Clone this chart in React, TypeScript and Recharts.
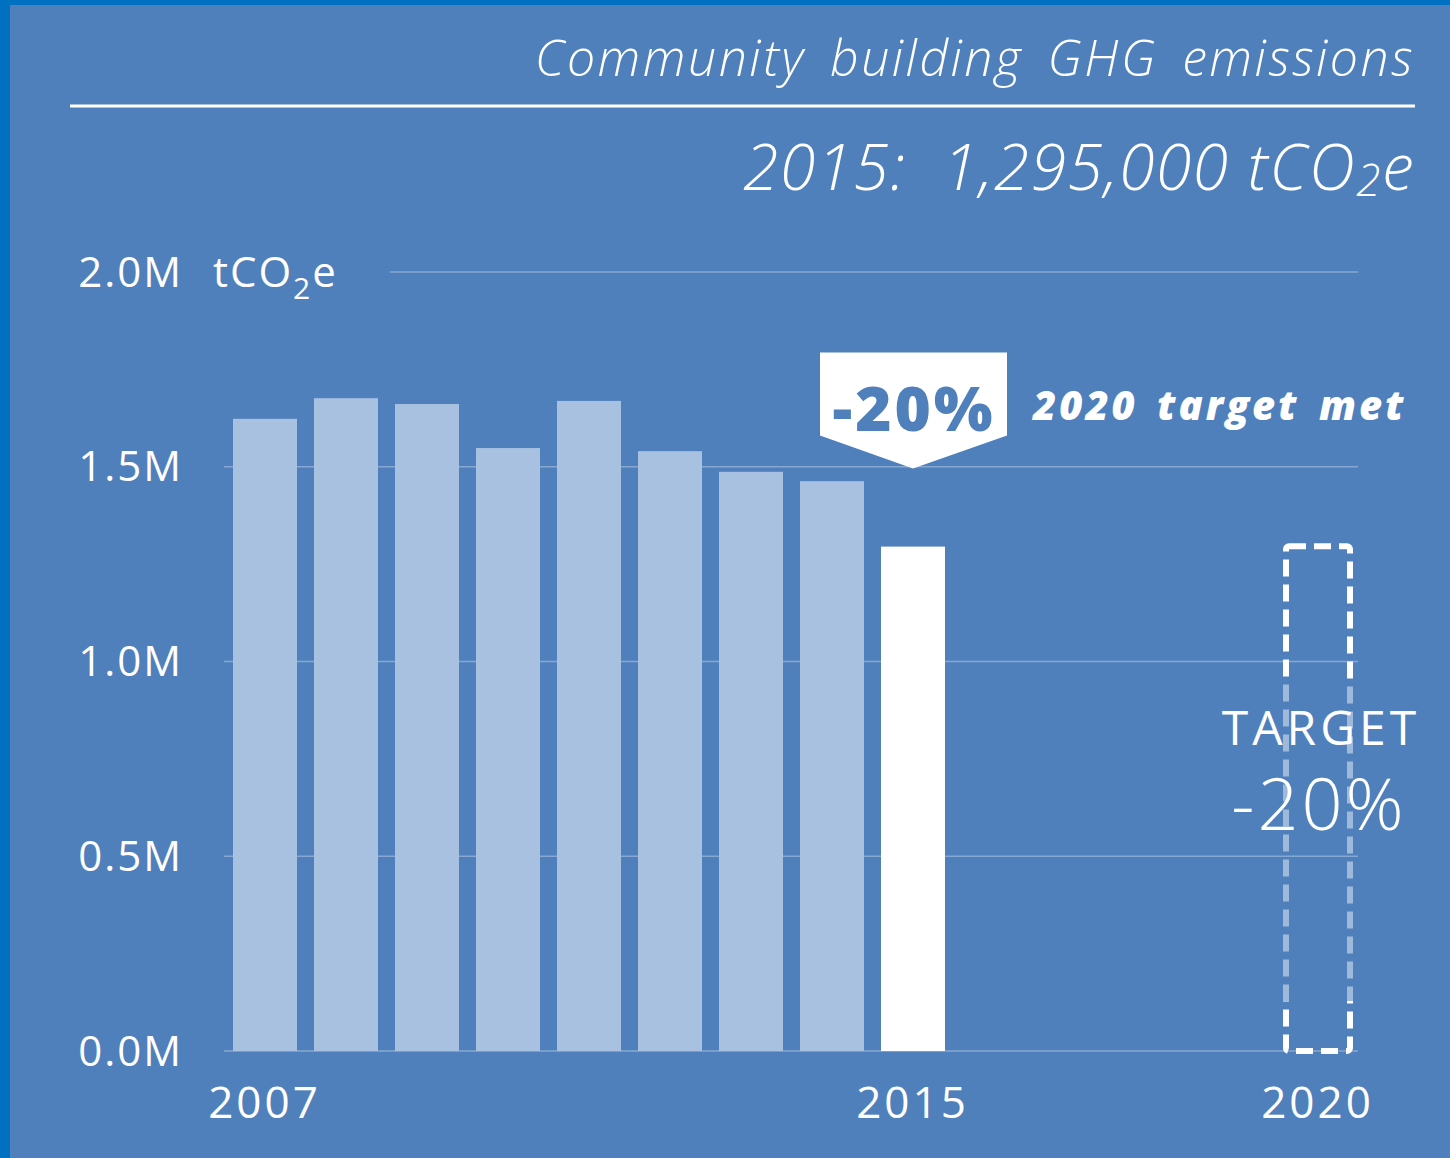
import React from 'react';
import { BarChart, Bar, XAxis, YAxis, CartesianGrid } from 'recharts';

// values in million tCO2e
const years = ['2007', '2008', '2009', '2010', '2011', '2012', '2013', '2014', '2015', '2016', '2017', '2018', '2019', '2020'];
const actual = [1.623, 1.676, 1.661, 1.548, 1.669, 1.540, 1.487, 1.463, 1.295, null, null, null, null, null];
const target = [null, null, null, null, null, null, null, null, null, null, null, null, null, 1.296];
const yTicks = [0, 0.5, 1.0, 1.5, 2.0];
const shownYears = ['2007', '2015', '2020'];
const currentYear = '2015';
const reductionLabel = '-20%';

const data = years.map((year, i) => ({ year, actual: actual[i], target: target[i] }));

const BG = '#4F80BB';
const BAR = '#A9C1E0';
const GRID = '#87A8D2';
const FONT = '"Open Sans", "DejaVu Sans", sans-serif';
const W = 1450;
const H = 1158;
const TOP = 272;

const currentValue = actual[years.indexOf(currentYear)] as number;

const ActualShape = (props: any) => {
  const { x, y, width, height, payload } = props;
  if (payload.actual == null || !height) return <g />;
  const isCurrent = payload.year === currentYear;
  const cx = x + width / 2;
  const tipY = y - 78;
  return (
    <g>
      <rect x={x} y={y} width={width} height={height} fill={isCurrent ? '#FFFFFF' : BAR} />
      {isCurrent && (
        <g>
          <polygon
            points={`${cx - 93},${tipY - 116} ${cx + 94},${tipY - 116} ${cx + 94},${tipY - 33} ${cx},${tipY} ${cx - 93},${tipY - 33}`}
            fill="#FFFFFF"
          />
          <text x={cx + 1} y={tipY - 62} textAnchor="middle" dominantBaseline="central" fill={BG} fontSize={62} fontWeight={800} letterSpacing={3} fontFamily={FONT}>
            {reductionLabel}
          </text>
          <text x={cx + 120} y={tipY - 64} textAnchor="start" dominantBaseline="central" fill="#FFFFFF" fontSize={40} fontWeight={800} fontStyle="italic" letterSpacing={3} wordSpacing={6} fontFamily={FONT}>
            2020 target met
          </text>
        </g>
      )}
    </g>
  );
};

const TargetShape = (props: any) => {
  const { x, y, width, height, payload } = props;
  if (payload.target == null || !height) return <g />;
  const cx = x + width / 2;
  return (
    <g>
      <defs>
        <linearGradient id="targetStroke" x1="0" y1="0" x2="0" y2="1">
          <stop offset="0" stopColor="#FFFFFF" stopOpacity={1} />
          <stop offset="0.265" stopColor="#FFFFFF" stopOpacity={1} />
          <stop offset="0.265" stopColor="#FFFFFF" stopOpacity={0.45} />
          <stop offset="0.9" stopColor="#FFFFFF" stopOpacity={0.45} />
          <stop offset="0.9" stopColor="#FFFFFF" stopOpacity={1} />
          <stop offset="1" stopColor="#FFFFFF" stopOpacity={1} />
        </linearGradient>
      </defs>
      <rect x={x} y={y} width={width} height={height} rx={3} fill="none" stroke="url(#targetStroke)" strokeWidth={6} strokeDasharray="17 8" />
      <text x={cx + 3} y={y + 180} textAnchor="middle" dominantBaseline="central" fill="#FFFFFF" fontSize={48} fontWeight={400} letterSpacing={4} fontFamily={FONT}>
        TARGET
      </text>
      <text x={cx + 1} y={y + 256} textAnchor="middle" dominantBaseline="central" fill="#FFFFFF" fontSize={72} fontWeight={300} letterSpacing={3} fontFamily={FONT}>
        {reductionLabel}
      </text>
    </g>
  );
};

const YTick = (props: any) => {
  const { x, y, payload } = props;
  const v = Number(payload.value);
  return (
    <g>
      <text x={x} y={y} dy="0.35em" textAnchor="end" fill="#FFFFFF" fontSize={42} letterSpacing={2} fontFamily={FONT}>
        {v.toFixed(1)}M
      </text>
      {v === 2 && (
        <text x={x + 30} y={y} dy="0.35em" textAnchor="start" fill="#FFFFFF" fontSize={42} letterSpacing={2} fontFamily={FONT}>
          tCO<tspan fontSize={30} dy={12}>2</tspan><tspan dy={-12}>e</tspan>
        </text>
      )}
    </g>
  );
};

const XTick = (props: any) => {
  const { x, y, payload } = props;
  if (!shownYears.includes(payload.value)) return <g />;
  return (
    <text x={x} y={y} dy="0.35em" textAnchor="middle" fill="#FFFFFF" fontSize={44} letterSpacing={3} fontFamily={FONT}>
      {payload.value}
    </text>
  );
};

const GridLine = (props: any) => {
  const { x1, x2, y1, y2 } = props;
  const start = Math.abs(y1 - TOP) < 2 ? x1 + 166 : x1;
  return <line x1={start} x2={x2} y1={y1} y2={y2} stroke={GRID} strokeWidth={1.5} />;
};

export default function App() {
  const valueText = Math.round(currentValue * 1e6).toLocaleString('en-US');
  return (
    <div style={{ position: 'absolute', left: 0, top: 0, width: W, height: H, background: '#0070C0', fontFamily: FONT }}>
      <div style={{ position: 'absolute', left: 10, top: 5, width: W - 10, height: H - 5, background: BG }} />
      <svg width={W} height={H} style={{ position: 'absolute', left: 0, top: 0 }}>
        <text x={1415} y={57} textAnchor="end" dominantBaseline="central" fill="#FFFFFF" fontSize={50} fontStyle="italic" fontWeight={300} letterSpacing={2.5} wordSpacing={9} fontFamily={FONT}>
          Community building GHG emissions
        </text>
        <line x1={70} x2={1415} y1={106} y2={106} stroke="#FFFFFF" strokeWidth={3} />
        <text x={1415} y={165} textAnchor="end" dominantBaseline="central" fill="#FFFFFF" fontSize={64} fontStyle="italic" fontWeight={300} letterSpacing={1.5} fontFamily={FONT}>
          {`${currentYear}:\u00A0\u00A0${valueText} tCO`}
          <tspan fontSize={44} dy={14}>2</tspan>
          <tspan dy={-14}>e</tspan>
        </text>
      </svg>
      <div style={{ position: 'absolute', left: 0, top: 0 }}>
        <BarChart width={W} height={H} data={data} margin={{ top: TOP, right: 92, left: 0, bottom: 0 }} barSize={64}>
          <CartesianGrid horizontal={GridLine} vertical={false} />
          <XAxis dataKey="year" height={107} axisLine={false} tickLine={false} tickSize={0} tickMargin={52} interval={0} tick={<XTick />} />
          <YAxis type="number" domain={[0, 2]} ticks={yTicks} width={224} axisLine={false} tickLine={false} tickSize={0} tickMargin={41} tick={<YTick />} />
          <Bar dataKey="actual" stackId="a" shape={ActualShape} isAnimationActive={false} />
          <Bar dataKey="target" stackId="a" shape={TargetShape} isAnimationActive={false} />
        </BarChart>
      </div>
    </div>
  );
}
